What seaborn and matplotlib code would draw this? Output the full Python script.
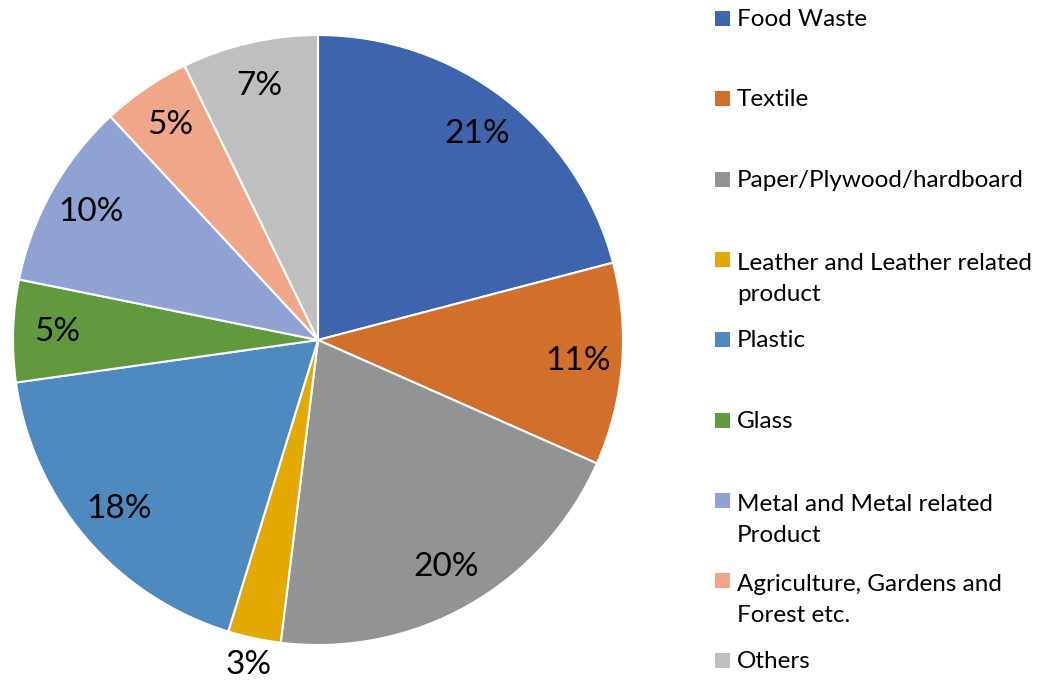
import numpy as np
import matplotlib
matplotlib.use("Agg")
import matplotlib.pyplot as plt
from matplotlib.patches import Rectangle
import seaborn as sns

categories = [
    "Food Waste",
    "Textile",
    "Paper/Plywood/hardboard",
    "Leather and Leather related\nproduct",
    "Plastic",
    "Glass",
    "Metal and Metal related\nProduct",
    "Agriculture, Gardens and\nForest etc.",
    "Others",
]
shares = [20.9, 10.7, 20.3, 2.8, 18.0, 5.4, 9.9, 4.7, 7.2]
colors = ["#3E64AE", "#D26F2B", "#939393", "#E2AA00", "#4E8ABF",
          "#62993E", "#8FA2D3", "#F0A789", "#BFBFBF"]

sns.set_theme(style="white")
FONT = "Lato"
plt.rcParams["font.family"] = [FONT, "DejaVu Sans"]

W, H = 1043, 683
fig = plt.figure(figsize=(W / 100, H / 100), dpi=100)
fig.patch.set_facecolor("white")

cx, cy, r = 318, 340, 305
ax = fig.add_axes([(cx - r) / W, (H - cy - r) / H, 2 * r / W, 2 * r / H])
wedges, texts, autotexts = ax.pie(
    shares, colors=colors, startangle=90, counterclock=False,
    autopct="%.0f%%", pctdistance=0.855,
    wedgeprops=dict(edgecolor="white", linewidth=1.5),
    textprops=dict(fontsize=24, color="black"),
)
ax.set_xlim(-1, 1)
ax.set_ylim(-1, 1)
ax.axis("off")

total = sum(shares)
for w, t, v in zip(wedges, autotexts, shares):
    if v / total < 0.04:
        ang = np.deg2rad((w.theta1 + w.theta2) / 2)
        t.set_position((1.09 * np.cos(ang), 1.09 * np.sin(ang)))

# legend (Excel-style: evenly spaced slots, marker aligned to first line)
step = 80.3
pitch = 34
for i, (lab, col) in enumerate(zip(categories, colors)):
    base = 26 + i * step
    nlines = lab.count("\n") + 1
    fig.patches.append(Rectangle((715 / W, 1 - base / H), 15 / W, 15 / H,
                                 transform=fig.transFigure, facecolor=col,
                                 edgecolor="none"))
    last_base = base + (nlines - 1) * pitch
    fig.text(737 / W, 1 - last_base / H, lab, va="baseline", ha="left",
             fontsize=17.5, color="black", linespacing=1.59)

fig.savefig("out.png", dpi=100, facecolor="white")
